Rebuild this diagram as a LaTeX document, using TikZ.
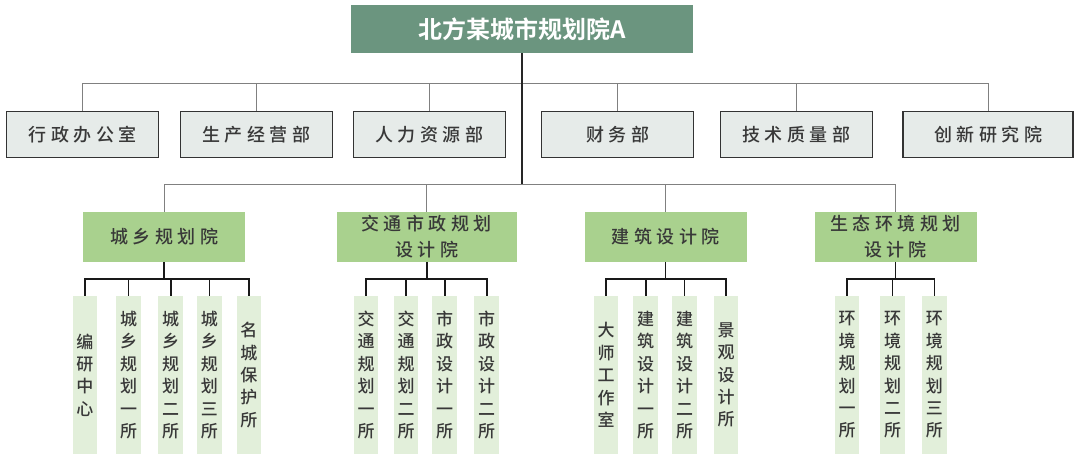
\documentclass[tikz,border=0pt]{standalone}
\usepackage{fontspec}
\newfontfamily\cjk{Noto Sans CJK SC Medium}
\newfontfamily\cjkbold{Noto Sans CJK SC Bold}
\newfontfamily\cjkwide[LetterSpace=25]{Noto Sans CJK SC Medium}
\usetikzlibrary{calc}

\definecolor{headGreen}{HTML}{6B957F}
\definecolor{deptGray}{HTML}{E6EBE9}
\definecolor{deptBorder}{HTML}{333333}
\definecolor{instGreen}{HTML}{A9D18E}
\definecolor{unitGreen}{HTML}{E2EFDA}
\definecolor{textGray}{HTML}{383838}

\tikzset{
	head/.style={fill=headGreen, minimum width=342pt, minimum height=48pt, inner sep=0pt, text=white, font=\cjkbold\fontsize{24}{28}\selectfont},
	dept/.style={draw=deptBorder, line width=1.5pt, fill=deptGray, minimum width=152pt, minimum height=46pt, inner sep=0pt, text=textGray, font=\cjkwide\fontsize{18}{22}\selectfont},
	inst/.style={fill=instGreen, minimum width=162pt, minimum height=50pt, inner sep=0pt, align=center, text=textGray, font=\cjkwide\fontsize{18}{25.7}\selectfont},
	unit/.style={fill=unitGreen, minimum width=24.5pt, minimum height=158pt, inner sep=0pt, align=center, text=textGray, font=\cjk\fontsize{17}{22.4}\selectfont},
	bus/.style={draw=black!50, line width=1pt},
	spine/.style={draw=black!85, line width=1.6pt},
	sub/.style={draw=black!90, line width=1.6pt}
}

\begin{document}
\begin{tikzpicture}[x=1pt, y=-1pt]

	\useasboundingbox (0,0) rectangle (1080,467);

	% head office
	\node [head] (headOffice) at (522,29) {北方某城市规划院A};

	% departments
	\node [dept] (deptAdmin) at (82.7,134.7) {行政办公室};
	\node [dept] (deptProd) at (256.3,134.7) {生产经营部};
	\node [dept] (deptHR) at (429.4,134.7) {人力资源部};
	\node [dept] (deptFin) at (617.5,134.7) {财务部};
	\node [dept] (deptTech) at (796.4,134.7) {技术质量部};
	\node [dept, minimum width=170pt] (deptInnov) at (988.2,134.7) {创新研究院};

	% institutes
	\node [inst] (instUrban) at (164,236.7) {城乡规划院};
	\node [inst, minimum width=180pt] (instTraffic) at (426.7,236.7) {交通市政规划\\设计院};
	\node [inst] (instArch) at (665.5,236.7) {建筑设计院};
	\node [inst] (instEco) at (895.5,236.7) {生态环境规划\\设计院};

	% units of the urban institute
	\node [unit] (urbanEdit) at (84.8,375) {编\\研\\中\\心};
	\node [unit] (urbanOne) at (128.5,375) {城\\乡\\规\\划\\一\\所};
	\node [unit] (urbanTwo) at (170.7,375) {城\\乡\\规\\划\\二\\所};
	\node [unit] (urbanThree) at (209.3,375) {城\\乡\\规\\划\\三\\所};
	\node [unit] (urbanHist) at (248.8,375) {名\\城\\保\\护\\所};

	% units of the traffic institute
	\node [unit] (trafficOne) at (366,375) {交\\通\\规\\划\\一\\所};
	\node [unit] (trafficTwo) at (406,375) {交\\通\\规\\划\\二\\所};
	\node [unit] (civilOne) at (444.7,375) {市\\政\\设\\计\\一\\所};
	\node [unit] (civilTwo) at (486.7,375) {市\\政\\设\\计\\二\\所};

	% units of the architecture institute
	\node [unit] (archMaster) at (606,375) {大\\师\\工\\作\\室};
	\node [unit] (archOne) at (645.7,375) {建\\筑\\设\\计\\一\\所};
	\node [unit] (archTwo) at (684.5,375) {建\\筑\\设\\计\\二\\所};
	\node [unit] (archLand) at (726,375) {景\\观\\设\\计\\所};

	% units of the eco institute
	\node [unit] (ecoOne) at (847,375) {环\\境\\规\\划\\一\\所};
	\node [unit] (ecoTwo) at (892.5,375) {环\\境\\规\\划\\二\\所};
	\node [unit] (ecoThree) at (934.3,375) {环\\境\\规\\划\\三\\所};

	% bus lines
	\coordinate (busTop) at (522,83.3);
	\coordinate (busMid) at (522,184);
	\draw [bus] (deptAdmin.north) |- (busTop);
	\draw [bus] (deptProd.north) |- (busTop);
	\draw [bus] (deptHR.north) |- (busTop);
	\draw [bus] (deptFin.north) |- (busTop);
	\draw [bus] (deptTech.north) |- (busTop);
	\draw [bus] (deptInnov.north) |- (busTop);
	\draw [bus] (instUrban.north) |- (busMid);
	\draw [bus] (instTraffic.north) |- (busMid);
	\draw [bus] (instArch.north) |- (busMid);
	\draw [bus] (instEco.north) |- (busMid);
	\draw [spine] (headOffice.south) -- (busMid);

	% sub lines
	\coordinate (subUrban) at ($(instUrban.south)+(0,16.8)$);
	\draw [sub] (instUrban.south) -- (subUrban);
	\draw [sub] (urbanEdit.north) |- (subUrban);
	\draw [sub] (urbanOne.north) |- (subUrban);
	\draw [sub] (urbanTwo.north) |- (subUrban);
	\draw [sub] (urbanThree.north) |- (subUrban);
	\draw [sub] (urbanHist.north) |- (subUrban);

	\coordinate (subTraffic) at ($(instTraffic.south)+(0,17.3)$);
	\draw [sub] (instTraffic.south) -- (subTraffic);
	\draw [sub] (trafficOne.north) |- (subTraffic);
	\draw [sub] (trafficTwo.north) |- (subTraffic);
	\draw [sub] (civilOne.north) |- (subTraffic);
	\draw [sub] (civilTwo.north) |- (subTraffic);

	\coordinate (subArch) at ($(instArch.south)+(0,17.3)$);
	\draw [sub] (instArch.south) -- (subArch);
	\draw [sub] (archMaster.north) |- (subArch);
	\draw [sub] (archOne.north) |- (subArch);
	\draw [sub] (archTwo.north) |- (subArch);
	\draw [sub] (archLand.north) |- (subArch);

	\coordinate (subEco) at ($(instEco.south)+(0,17.3)$);
	\draw [sub] (instEco.south) -- (subEco);
	\draw [sub] (ecoOne.north) |- (subEco);
	\draw [sub] (ecoTwo.north) |- (subEco);
	\draw [sub] (ecoThree.north) |- (subEco);

\end{tikzpicture}
\end{document}
